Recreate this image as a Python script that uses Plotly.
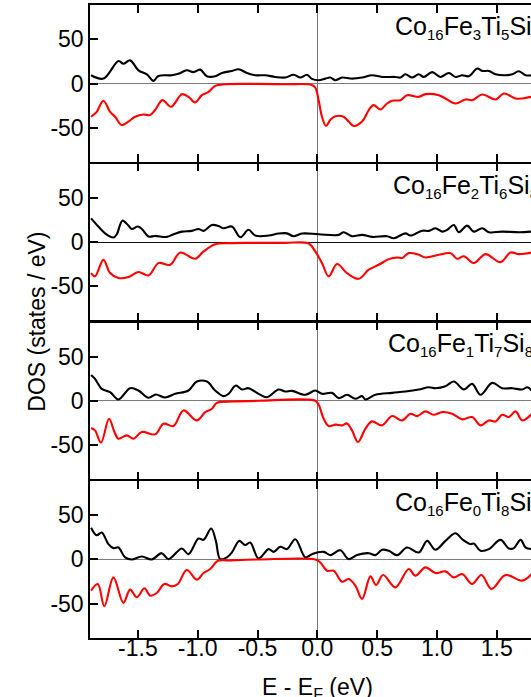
import plotly.graph_objects as go
from plotly.subplots import make_subplots

# ---------------- data (energies in eV, DOS in states/eV) ----------------
SUB = "<sub><span style='font-size:15px'>{}</span></sub>"
formulas = [("16", "3", "5", "8"), ("16", "2", "6", "8"), ("16", "1", "7", "8"), ("16", "0", "8", "8")]
labels = ["Co" + SUB.format(a) + "Fe" + SUB.format(b) + "Ti" + SUB.format(c) + "Si" + SUB.format(d)
          for a, b, c, d in formulas]

# panel 1: Fe3
e1_up = [-1.891, -1.788, -1.662, -1.621, -1.565, -1.495, -1.425, -1.370, -1.328, -1.216, -1.160,
         -1.091, -1.035, -0.979, -0.923, -0.854, -0.798, -0.714, -0.658, -0.589, -0.519, -0.435,
         -0.351, -0.268, -0.198, -0.142, -0.086, -0.045, 0.011, 0.067, 0.109, 0.151, 0.206, 0.290,
         0.374, 0.457, 0.541, 0.653, 0.695, 0.736, 0.792, 0.848, 0.890, 0.960, 1.029, 1.099, 1.155,
         1.211, 1.266, 1.336, 1.378, 1.434, 1.490, 1.573, 1.629, 1.685, 1.741, 1.791]
d1_up = [9.4, 5.6, 25.5, 22.5, 26.3, 15, 10.5, 3, 8.6, 9.4, 11, 15, 13, 15.8, 8.3, 8.3, 12, 14.3,
         16.2, 12, 9.4, 9.4, 7.5, 6.8, 10, 6.8, 10, 5.3, 3.8, 5.6, 6.8, 3.8, 6.8, 5.6, 6.8, 9.4,
         7.5, 7.5, 6.8, 10.5, 6.8, 10.5, 7.5, 13, 7.5, 12, 7.5, 9.4, 8.3, 17, 14.3, 14.3, 10.5,
         9.4, 10.5, 14, 9.4, 9.4]
e1_dn = [-1.891, -1.844, -1.788, -1.732, -1.690, -1.635, -1.579, -1.523, -1.453, -1.398, -1.356,
         -1.294, -1.222, -1.132, -1.077, -1.021, -0.965, -0.909, -0.854, -0.770, -0.547, -0.268,
         -0.045, -0.017, 0.011, 0.039, 0.073, 0.109, 0.151, 0.220, 0.262, 0.304, 0.374, 0.430,
         0.471, 0.527, 0.583, 0.625, 0.695, 0.750, 0.848, 0.904, 1.015, 1.071, 1.155, 1.239, 1.294,
         1.378, 1.490, 1.559, 1.657, 1.713, 1.791]
d1_dn = [-37.6, -32, -19.5, -32, -37.6, -47, -43, -37.6, -35, -35.7, -30, -18.8, -26.3, -12, -15,
         -21.4, -13.2, -9.4, -2.6, -0.8, -0.4, -0.8, -1.5, -4.5, -18.8, -37.6, -48, -41, -37,
         -37.6, -43, -48, -43, -30, -24.4, -29.3, -22.6, -19.5, -18.8, -13.2, -15, -12, -13.2,
         -16.9, -22.6, -18, -18.8, -12.4, -18, -11.3, -16.9, -16.9, -15]

# panel 2: Fe2
e2_up = [-1.891, -1.830, -1.774, -1.704, -1.676, -1.629, -1.579, -1.551, -1.501, -1.467, -1.411,
         -1.356, -1.258, -1.202, -1.132, -1.049, -0.993, -0.951, -0.881, -0.826, -0.784, -0.714,
         -0.644, -0.575, -0.519, -0.407, -0.324, -0.254, -0.198, -0.128, 0.011, 0.179, 0.220,
         0.290, 0.374, 0.457, 0.583, 0.639, 0.736, 0.778, 0.876, 0.932, 0.987, 1.043, 1.085, 1.141,
         1.183, 1.252, 1.308, 1.378, 1.434, 1.545, 1.685, 1.791]
d2_up = [27, 17.7, 10, 5.3, 9, 24.4, 18.8, 15, 17.7, 15, 6.4, 7.1, 6, 9, 12, 12.8, 15, 12.8, 19.5,
         18.4, 15.8, 17.7, 5.6, 14, 7.5, 7.5, 9.8, 10, 6.8, 9.8, 9, 8.3, 11.3, 6.8, 8.3, 6, 6.8,
         4.5, 10, 7.5, 13, 12.8, 15.8, 12, 13.9, 19.5, 11.3, 18.8, 12, 15.8, 11.3, 12, 11.3, 12]
e2_dn = [-1.891, -1.858, -1.788, -1.732, -1.662, -1.579, -1.495, -1.411, -1.328, -1.230, -1.146,
         -1.021, -0.951, -0.854, -0.742, -0.547, -0.268, -0.073, -0.017, 0.039, 0.095, 0.165,
         0.248, 0.346, 0.430, 0.513, 0.597, 0.667, 0.709, 0.764, 0.848, 0.904, 1.015, 1.113, 1.169,
         1.225, 1.308, 1.406, 1.531, 1.615, 1.685, 1.791]
d2_dn = [-35, -38.7, -20, -35, -40.6, -39.5, -33.8, -37.6, -23.7, -25.6, -11.7, -18.8, -10.5,
         -2.3, -1.1, -0.8, -0.8, -1.5, -10.5, -23.7, -38.7, -24.8, -35, -41.4, -31.2, -25.6,
         -19.2, -17.3, -18, -12.4, -14.3, -17.3, -14.3, -12.4, -18.8, -16, -23.7, -13.5, -22.6,
         -11.7, -13.5, -11.7]

# panel 3: Fe1
e3_up = [-1.891, -1.858, -1.802, -1.732, -1.662, -1.565, -1.495, -1.411, -1.350, -1.272, -1.188,
         -1.077, -1.007, -0.923, -0.854, -0.784, -0.742, -0.681, -0.630, -0.575, -0.491, -0.421,
         -0.324, -0.268, -0.212, -0.100, -0.017, 0.039, 0.123, 0.179, 0.248, 0.318, 0.374, 0.402,
         0.485, 0.625, 0.736, 0.848, 0.932, 0.987, 1.071, 1.141, 1.225, 1.294, 1.364, 1.462, 1.545,
         1.629, 1.713, 1.755, 1.791]
d3_up = [29.3, 24.8, 13.5, 9.8, 1.5, 14.3, 11.7, 3.4, 7.1, 3.8, 7.9, 11.7, 21.8, 21.8, 11.7, 5.3,
         7.9, 17.3, 12.8, 14.3, 7.9, 4.1, 12.8, 10.5, 11.3, 6.8, 11.7, 7.9, 9, 3, 6.8, 2.3, 5.3,
         1.5, 6.8, 9, 10.5, 12.8, 15.4, 14.3, 16.5, 21.8, 12.8, 19.2, 6.8, 20.3, 14.3, 14.3, 12.8,
         15.4, 11.7]
e3_dn = [-1.891, -1.858, -1.808, -1.741, -1.696, -1.662, -1.593, -1.537, -1.467, -1.356, -1.286,
         -1.202, -1.119, -1.007, -0.937, -0.881, -0.840, -0.714, -0.491, -0.017, 0.011, 0.053,
         0.095, 0.151, 0.206, 0.248, 0.290, 0.340, 0.402, 0.457, 0.541, 0.625, 0.709, 0.778, 0.834,
         0.904, 0.973, 1.043, 1.127, 1.211, 1.294, 1.364, 1.434, 1.490, 1.545, 1.601, 1.657, 1.713,
         1.791]
d3_dn = [-30.8, -33.5, -47.4, -20.3, -35.3, -42.9, -39.1, -42.9, -35.3, -38, -26, -28.6, -10.9,
         -22.2, -12.8, -9, -2.3, -0.8, 0, 0, -4.5, -20.3, -28.6, -27, -27.8, -25.6, -33.5, -46.6,
         -31.6, -23.3, -27.8, -17.3, -22.2, -14.7, -17.3, -12, -15.8, -12.8, -14.7, -21, -18.4,
         -27.8, -22.2, -23.3, -15.8, -18.4, -12, -22.2, -15]

# panel 4: Fe0
e4_up = [-1.891, -1.844, -1.802, -1.746, -1.704, -1.662, -1.607, -1.551, -1.467, -1.384, -1.300,
         -1.244, -1.132, -1.077, -0.993, -0.951, -0.887, -0.848, -0.812, -0.756, -0.714, -0.653,
         -0.603, -0.561, -0.491, -0.407, -0.365, -0.310, -0.254, -0.184, -0.100, -0.045, 0.053,
         0.109, 0.192, 0.262, 0.332, 0.430, 0.485, 0.541, 0.597, 0.667, 0.750, 0.848, 0.918, 0.987,
         1.071, 1.155, 1.211, 1.280, 1.308, 1.364, 1.434, 1.531, 1.601, 1.643, 1.699, 1.741, 1.791]
d4_up = [36, 27.4, 30.5, 17.3, 12.8, 13.5, 2.3, 0, 3.4, 0, 7.1, 0.4, 12.4, 6, 23.7, 22.2, 35, 21,
         0.4, 2.3, 7.9, 21, 16.2, 19.2, 1.1, 11.7, 8.6, 14.3, 11.7, 22.9, 2.3, 6, 8.6, 4.9, 10.5,
         0.4, 4.9, 7.1, 4.9, 10.9, 9.8, 4.9, 13.5, 7.9, 21, 10.9, 21, 29.7, 22.9, 17.3, 18, 9.8,
         11.7, 22.2, 12.4, 12.8, 22.2, 13.5, 11.7]
e4_dn = [-1.891, -1.835, -1.780, -1.704, -1.621, -1.565, -1.509, -1.445, -1.398, -1.342, -1.278,
         -1.216, -1.166, -1.091, -1.007, -0.951, -0.895, -0.831, -0.742, -0.491, -0.017, 0.025,
         0.081, 0.137, 0.206, 0.262, 0.318, 0.374, 0.444, 0.491, 0.550, 0.653, 0.764, 0.820, 0.904,
         0.987, 1.071, 1.141, 1.211, 1.294, 1.372, 1.456, 1.573, 1.713, 1.791]
d4_dn = [-35.3, -27.8, -53, -20.3, -49.2, -34.2, -42.9, -32.7, -41, -38, -27.8, -30.5, -27.8, -12,
         -22.9, -15.4, -10.9, -1.5, -1.1, 0, 0, -3.4, -12.8, -12.8, -25.2, -22.2, -29.7, -44.7,
         -19.2, -29, -17.7, -31.6, -10.9, -18.4, -9, -15.4, -13.5, -20.3, -16.5, -27.8, -17.7,
         -33.5, -17.7, -24, -16.5]

panels = [(e1_up, d1_up, e1_dn, d1_dn), (e2_up, d2_up, e2_dn, d2_dn),
          (e3_up, d3_up, e3_dn, d3_dn), (e4_up, d4_up, e4_dn, d4_dn)]

x_tickvals = [-1.5, -1.0, -0.5, 0.0, 0.5, 1.0, 1.5]
x_ticktext = ["-1.5", "-1.0", "-0.5", "0.0", "0.5", "1.0", "1.5"]
y_tickvals = [-50, 0, 50]
y_ticktext = ["-50", "0", "50"]

# label anchor positions (eV) and zero-line colours — layout, not data
label_x = [0.63, 0.618, 0.575, 0.63]
zero_col = ["#7a7a7a", "#111111", "#7a7a7a", "#7a7a7a"]

FONT = "Liberation Sans, Arial, Helvetica, sans-serif"
LW = 1.5
XRANGE = [-1.9, 1.786]

fig = make_subplots(rows=4, cols=1, shared_xaxes=True, vertical_spacing=LW / 633)

for i, (eu, du, ed, dd) in enumerate(panels):
    r = i + 1
    fig.add_trace(go.Scatter(x=eu, y=du, mode="lines",
                             line=dict(color="black", width=2.1, shape="spline", smoothing=1.0),
                             showlegend=False, hoverinfo="skip"), row=r, col=1)
    fig.add_trace(go.Scatter(x=ed, y=dd, mode="lines",
                             line=dict(color="#ff0000", width=2.1, shape="spline", smoothing=1.0),
                             showlegend=False, hoverinfo="skip"), row=r, col=1)
    fig.update_xaxes(row=r, col=1, range=XRANGE, tickvals=x_tickvals, ticktext=x_ticktext,
                     ticks="inside", ticklen=8, tickwidth=LW, tickcolor="black",
                     showline=True, linewidth=LW, linecolor="black", mirror="ticks",
                     zeroline=True, zerolinecolor="#7a7a7a", zerolinewidth=1, showgrid=False,
                     showticklabels=False)
    fig.update_yaxes(row=r, col=1, range=[-89, 89], tickvals=y_tickvals, ticktext=y_ticktext,
                     ticks="inside", ticklen=8, tickwidth=LW, tickcolor="black",
                     showline=True, linewidth=LW, linecolor="black", mirror=False,
                     zeroline=True, zerolinecolor=zero_col[i], zerolinewidth=1, showgrid=False,
                     tickfont=dict(family=FONT, size=23, color="black"))
    yname = "y" if r == 1 else f"y{r}"
    fig.add_annotation(text=labels[i], xref="x", x=label_x[i], xanchor="left",
                       yref=f"{yname} domain", y=1, yanchor="top", yshift=-5,
                       showarrow=False, font=dict(family=FONT, size=25, color="black"))

# tick-label carrier axis for the bottom energy scale (sits a few px above the bottom frame)
fig.add_trace(go.Scatter(x=[None], y=[None], xaxis="x5", yaxis="y4", showlegend=False,
                         hoverinfo="skip"))
fig.update_layout(xaxis5=dict(overlaying="x4", anchor="free", position=0.009, side="bottom",
                              range=XRANGE, tickvals=x_tickvals, ticktext=x_ticktext,
                              ticks="", showline=False, zeroline=False, showgrid=False,
                              tickfont=dict(family=FONT, size=23, color="black")))

fig.add_annotation(text="DOS (states / eV)", textangle=-90, xref="paper", x=-0.122,
                   xanchor="center", yref="paper", y=0.5, yanchor="middle", showarrow=False,
                   font=dict(family=FONT, size=23, color="black"))
fig.add_annotation(text="E - E<sub>F</sub> (eV)", xref="x4", x=0.0, xanchor="center",
                   yref="paper", y=0, yanchor="top", yshift=-34, showarrow=False,
                   font=dict(family=FONT, size=23, color="black"))

fig.update_layout(width=531, height=697, margin=dict(l=90, r=0, t=5, b=59),
                  paper_bgcolor="white", plot_bgcolor="white",
                  font=dict(family=FONT, color="black"))

fig.write_html("out.html", config={"displayModeBar": False},
               post_script="document.body.style.margin='0';document.body.style.overflow='hidden';")
